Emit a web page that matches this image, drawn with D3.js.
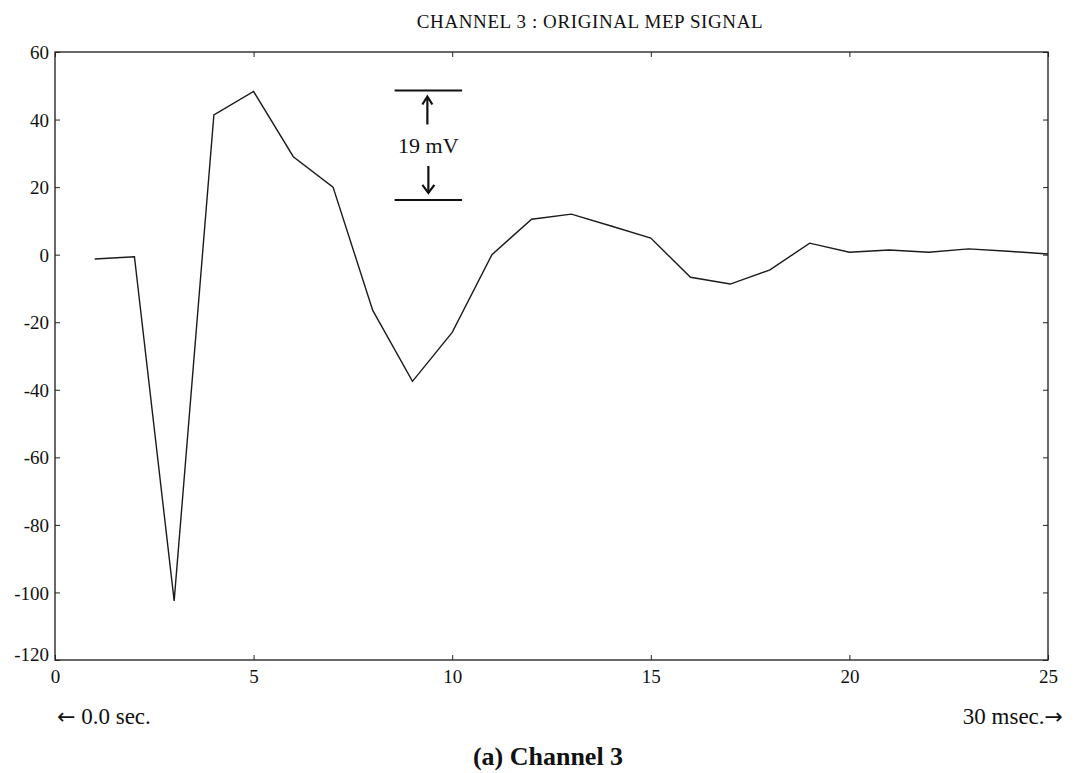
<!DOCTYPE html>
<html>
<head>
<meta charset="utf-8">
<script src="https://cdn.jsdelivr.net/npm/d3@7"></script>
<style>
  html, body { margin: 0; padding: 0; background: #fff; }
  svg { display: block; }
  text { font-family: "Liberation Serif", "Times New Roman", serif; fill: #111; }
</style>
</head>
<body>
<svg id="chart" width="1090" height="773"></svg>
<script>
// ---- data ----
const title = "CHANNEL 3 : ORIGINAL MEP SIGNAL";
const sampleIndex = [1,2,3,4,5,6,7,8,9,10,11,12,13,14,15,16,17,18,19,20,21,22,23,24,25];
const signal = [-1.3,-0.6,-102.5,41.4,48.3,29,20,-16.5,-37.5,-23,0,10.5,12,8.5,4.9,-6.7,-8.7,-4.5,3.4,0.7,1.4,0.7,1.7,1.0,0.2];
const xTicks = [0,5,10,15,20,25];
const yTicks = [60,40,20,0,-20,-40,-60,-80,-100,-120];
const xDomain = [0,25];
const yDomain = [-120,60];
const scaleBarValues = [48.6, 16.2];   // the two reference lines of the "19 mV" marker
const scaleBarSpan = [8.55, 10.25];    // x extent of the marker lines (sample units)
const scaleBarLabel = "19 mV";
const leftNote = ["\u2190", " 0.0 sec."];
const rightNote = ["30 msec.", "\u2192"];
const caption = "(a) Channel 3";

// ---- layout ----
const svg = d3.select("#chart");
const L = 55, R = 1048, T = 52, B = 660;
const x = d3.scaleLinear().domain(xDomain).range([L, R]);
const y = d3.scaleLinear().domain(yDomain).range([B, T]);
const plain = d => String(d);   // hyphen-minus, as printed in the original

// title
svg.append("text").attr("x", 590).attr("y", 28)
  .attr("text-anchor", "middle").attr("font-size", 19).attr("letter-spacing", 0.6).text(title);

// frame
svg.append("rect").attr("x", L).attr("y", T).attr("width", R - L).attr("height", B - T)
  .attr("fill", "none").attr("stroke", "#1a1a1a").attr("stroke-width", 1.3);

// axes (ticks pointing inward)
const gx = svg.append("g").attr("transform", `translate(0,${B})`)
  .call(d3.axisBottom(x).tickValues(xTicks).tickSize(-5).tickPadding(7).tickFormat(plain));
const gxTop = svg.append("g").attr("transform", `translate(0,${T})`)
  .call(d3.axisTop(x).tickValues(xTicks).tickSize(-5).tickFormat(""));
const gy = svg.append("g").attr("transform", `translate(${L},0)`)
  .call(d3.axisLeft(y).tickValues(yTicks).tickSize(-5).tickPadding(6).tickFormat(plain));
const gyR = svg.append("g").attr("transform", `translate(${R},0)`)
  .call(d3.axisRight(y).tickValues(yTicks).tickSize(-5).tickFormat(""));

[gx, gxTop, gy, gyR].forEach(g => {
  g.select(".domain").remove();
  g.selectAll(".tick line").attr("stroke", "#222").attr("stroke-width", 1);
  g.selectAll("text").attr("font-family", "Liberation Serif, serif").attr("font-size", 19).attr("fill", "#111");
});
gx.selectAll(".tick text").attr("dy", "0.85em");
gy.selectAll(".tick text").attr("dy", "0.35em");
// lowest y label sits slightly above the corner, as in the original
gy.selectAll(".tick").filter(d => d === -120).select("text").attr("dy", "0.05em");

// signal
const line = d3.line().x((d, i) => x(sampleIndex[i])).y(d => y(d));
svg.append("path").datum(signal)
  .attr("d", line).attr("fill", "none")
  .attr("stroke", "#1a1a1a").attr("stroke-width", 1.4).attr("stroke-linejoin", "miter");

// "19 mV" scale marker
const mk = svg.append("g");
scaleBarValues.forEach(v => {
  mk.append("line").attr("x1", x(scaleBarSpan[0])).attr("x2", x(scaleBarSpan[1]))
    .attr("y1", y(v)).attr("y2", y(v)).attr("stroke", "#111").attr("stroke-width", 2);
});
const mx = x((scaleBarSpan[0] + scaleBarSpan[1]) / 2) - 1;
const yTop = y(scaleBarValues[0]), yBot = y(scaleBarValues[1]);
// up arrow
mk.append("line").attr("x1", mx).attr("x2", mx).attr("y1", yTop + 7).attr("y2", yTop + 34)
  .attr("stroke", "#111").attr("stroke-width", 2.2);
mk.append("path").attr("d", `M${mx-5},${yTop+14} L${mx},${yTop+6} L${mx+5},${yTop+14}`)
  .attr("fill", "none").attr("stroke", "#111").attr("stroke-width", 2.2);
// label
mk.append("text").attr("x", mx + 1).attr("y", (yTop + yBot) / 2 + 8)
  .attr("text-anchor", "middle").attr("font-size", 22).text(scaleBarLabel);
// down arrow
mk.append("line").attr("x1", mx + 1).attr("x2", mx + 1).attr("y1", yBot - 34).attr("y2", yBot - 7)
  .attr("stroke", "#111").attr("stroke-width", 2.2);
mk.append("path").attr("d", `M${mx-5},${yBot-15} L${mx+1},${yBot-7} L${mx+7},${yBot-15}`)
  .attr("fill", "none").attr("stroke", "#111").attr("stroke-width", 2.2);

// notes under the axis
const ln = svg.append("text").attr("x", 57).attr("y", 724).attr("font-size", 23);
ln.append("tspan").attr("font-family", "DejaVu Sans, sans-serif").attr("font-size", 22).text(leftNote[0]);
ln.append("tspan").text(leftNote[1]);
const rn = svg.append("text").attr("x", 1063).attr("y", 724).attr("text-anchor", "end").attr("font-size", 23);
rn.append("tspan").text(rightNote[0]);
rn.append("tspan").attr("font-family", "DejaVu Sans, sans-serif").attr("font-size", 22).text(rightNote[1]);
svg.append("text").attr("x", 548).attr("y", 765).attr("text-anchor", "middle")
  .attr("font-size", 26).attr("font-weight", "bold").text(caption);
</script>
</body>
</html>
